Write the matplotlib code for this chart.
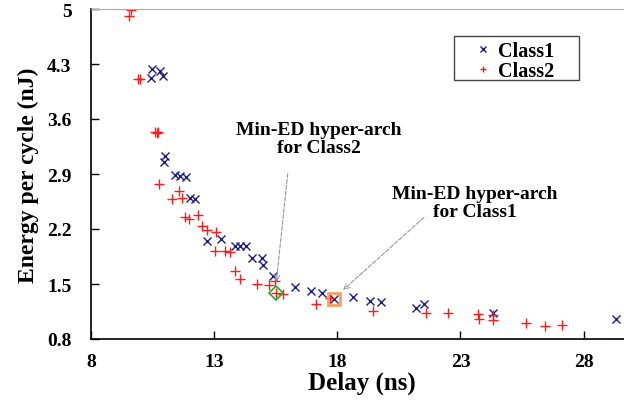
import matplotlib
matplotlib.use("Agg")
import matplotlib.pyplot as plt
from matplotlib.patches import Rectangle

plt.rcParams['font.family'] = ['Liberation Serif', 'DejaVu Serif']
plt.rcParams['font.weight'] = 'bold'

class1_delay = [10.46, 10.80, 10.94, 10.44, 11.00, 10.96, 11.41, 11.61, 11.86, 12.02,
                12.22, 12.70, 13.27, 13.85, 14.05, 14.29, 14.52, 14.95, 15.00, 15.40,
                16.28, 16.92, 17.39, 17.87, 18.65, 19.33, 19.76, 21.20, 21.53, 24.33, 29.30]
class1_energy = [4.24, 4.21, 4.15, 4.12, 3.13, 3.05, 2.89, 2.87, 2.86, 2.60,
                 2.58, 2.05, 2.07, 1.98, 1.98, 1.98, 1.83, 1.83, 1.74, 1.60,
                 1.46, 1.41, 1.39, 1.31, 1.34, 1.28, 1.27, 1.19, 1.24, 1.13, 1.05]

class2_delay = [9.61, 9.56, 9.92, 9.99, 10.60, 10.71, 10.67, 10.77, 11.59, 11.28,
                11.68, 11.82, 11.99, 12.36, 12.49, 12.72, 13.08, 13.03, 13.44, 13.64,
                13.85, 14.05, 14.73, 15.24, 15.47, 15.51, 15.81, 17.14, 17.70, 19.44,
                21.60, 22.51, 23.73, 23.77, 24.31, 24.31, 25.66, 26.43, 27.14]
class2_energy = [4.99, 4.91, 4.11, 4.11, 3.43, 3.44, 3.42, 2.77, 2.68, 2.58,
                 2.59, 2.35, 2.33, 2.38, 2.24, 2.19, 2.16, 1.92, 1.92, 1.91,
                 1.66, 1.56, 1.50, 1.49, 1.54, 1.38, 1.37, 1.25, 1.32, 1.16,
                 1.13, 1.13, 1.12, 1.05, 1.11, 1.04, 1.00, 0.97, 0.98]

min_class2 = (15.51, 1.38)
min_class1 = (17.87, 1.31)

x_ticks = [8, 13, 18, 23, 28]
y_ticks = [0.8, 1.5, 2.2, 2.9, 3.6, 4.3, 5.0]
y_tick_labels = ["0.8", "1.5", "2.2", "2.9", "3.6", "4.3", "5"]

W, H = 624, 402
fig = plt.figure(figsize=(W/100, H/100), dpi=100)
ax = fig.add_axes([91/W, 1-340/H, 1-91/W, 330/H])

ax.plot(class1_delay, class1_energy, linestyle='none', marker='x', color='#1c1c8c',
        markersize=6, markeredgewidth=1.0, label='Class1')
ax.plot(class2_delay, class2_energy, linestyle='none', marker='+', color='#ff1a1a',
        markersize=7, markeredgewidth=1.0, label='Class2')
ax.plot([min_class2[0]], [min_class2[1]], linestyle='none', marker='D', markersize=7,
        markerfacecolor='none', markeredgecolor='#22aa22', markeredgewidth=1.2)
ax.plot([min_class1[0]], [min_class1[1]], linestyle='none', marker='s', markersize=9,
        markerfacecolor='none', markeredgecolor='#f4a060', markeredgewidth=2)

ax.set_xlim(8, 8 + 533/24.63)
ax.set_ylim(0.8, 5.0)
ax.set_xticks(x_ticks)
ax.set_xticklabels([str(t) for t in x_ticks])
ax.set_yticks(y_ticks)
ax.set_yticklabels(y_tick_labels)
ax.tick_params(axis='both', direction='in', length=6, width=1, labelsize=14)
ax.tick_params(axis='x', pad=10)
ax.tick_params(axis='y', pad=14)

ax.spines['right'].set_visible(False)
ax.spines['top'].set_color('#aaaaaa')
ax.spines['left'].set_color('black')
ax.spines['bottom'].set_color('black')
ax.spines['left'].set_linewidth(1.2)
ax.spines['bottom'].set_linewidth(1.2)

ax.set_xlabel('Delay (ns)', fontsize=18, fontweight='bold', labelpad=0)
ax.xaxis.set_label_coords((362-91)/533, -(372-340)/330)
ax.set_ylabel('Energy per cycle (nJ)', fontsize=17, fontweight='bold', labelpad=6)

ax.text(17.26, 3.35, 'Min-ED hyper-arch\nfor Class2', ha='center', va='center',
        fontsize=14, fontweight='bold', linespacing=1.05)
ax.text(23.59, 2.54, 'Min-ED hyper-arch\nfor Class1', ha='center', va='center',
        fontsize=14, fontweight='bold', linespacing=1.05)

arrow_style = dict(arrowstyle='->', color='#999999', linestyle='--', linewidth=0.8)
ax.annotate('', xy=(15.51, 1.49), xytext=(16.0, 2.94), arrowprops=arrow_style)
ax.annotate('', xy=(18.15, 1.40), xytext=(21.6, 2.37), arrowprops=arrow_style)

# legend box drawn in figure pixels, under the frameless legend
box = Rectangle((454/W, 1-81/H), 125/W, 44/H, transform=fig.transFigure,
                facecolor='white', edgecolor='#444444', linewidth=1.0,
                zorder=4, clip_on=False)
ax.add_patch(box)
leg = ax.legend(loc='upper left', bbox_to_anchor=(475/W, 1-42/H),
                bbox_transform=fig.transFigure,
                fontsize=14.5, frameon=False, handlelength=0.8,
                handletextpad=0.35, labelspacing=0.0, borderpad=0,
                borderaxespad=0, markerscale=0.7)
leg.set_zorder(6)

fig.savefig('out.png', dpi=100)
